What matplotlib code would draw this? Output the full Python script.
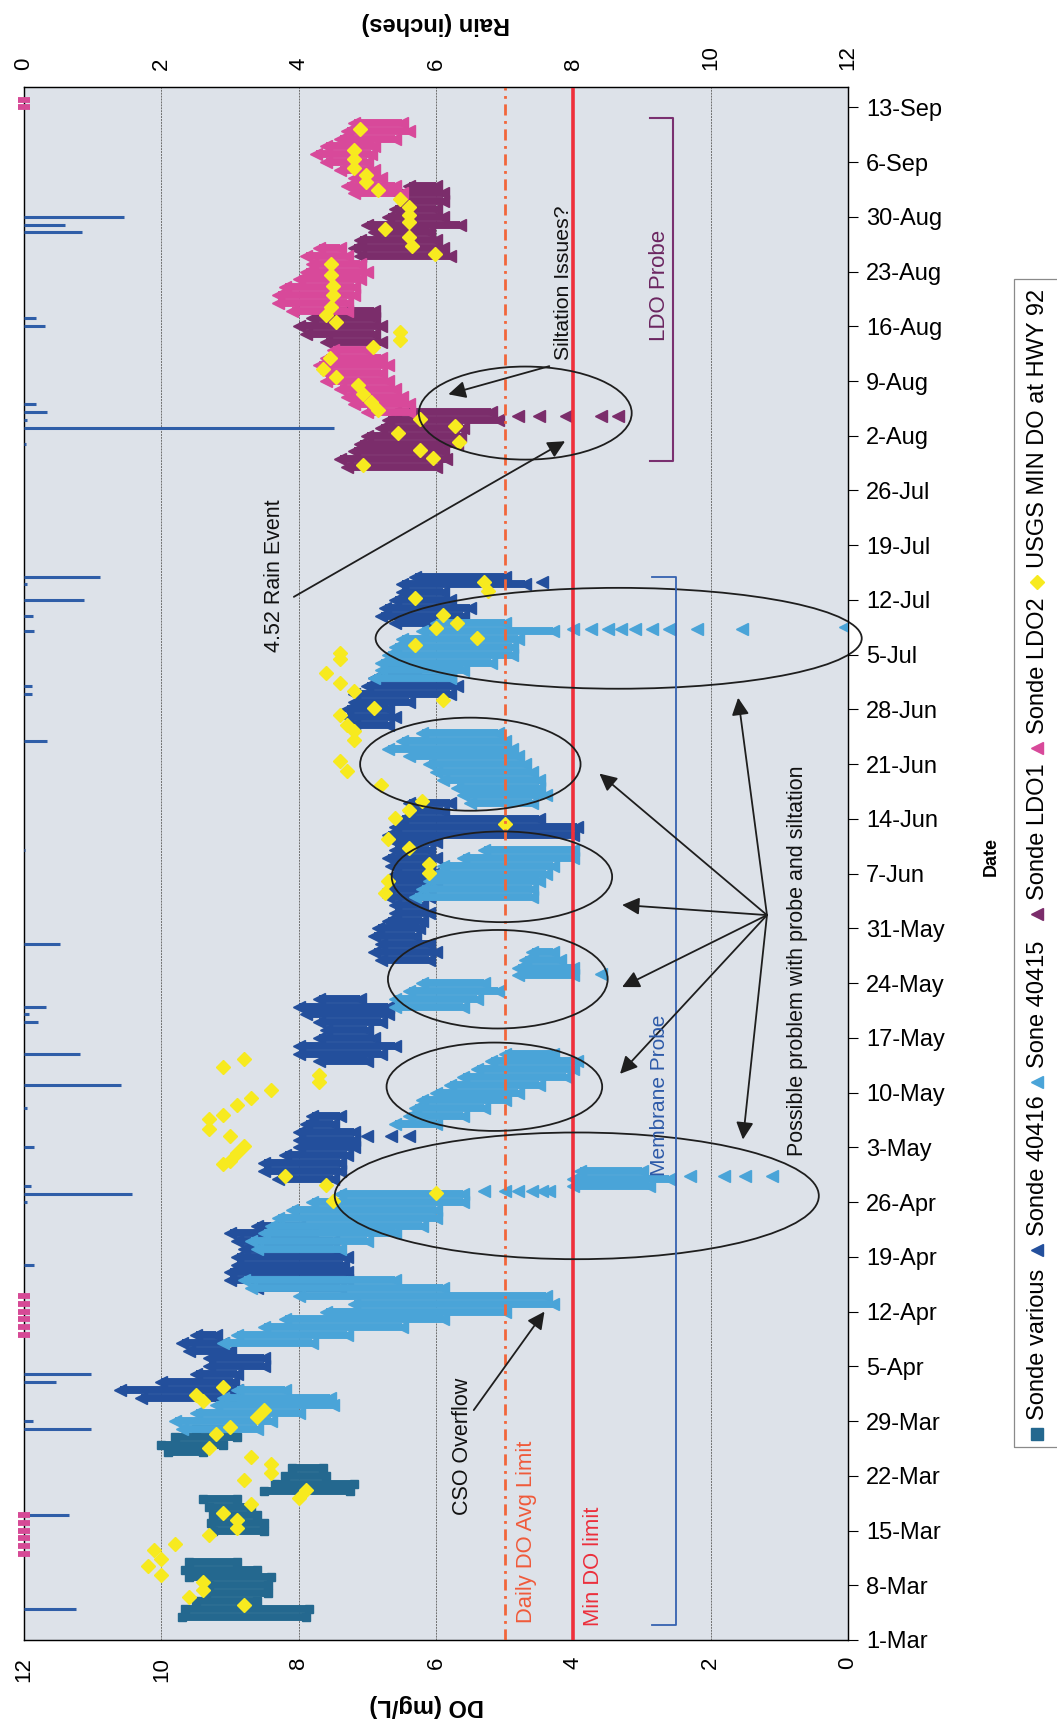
import numpy as np
import matplotlib
matplotlib.use("Agg")
import matplotlib.pyplot as plt
from matplotlib.patches import Ellipse, Rectangle
from matplotlib.lines import Line2D

plt.rcParams['font.family'] = ['Liberation Sans', 'DejaVu Sans']

# all dates are days after 1-Mar
date_labels = ['1-Mar', '8-Mar', '15-Mar', '22-Mar', '29-Mar', '5-Apr', '12-Apr',
               '19-Apr', '26-Apr', '3-May', '10-May', '17-May', '24-May', '31-May',
               '7-Jun', '14-Jun', '21-Jun', '28-Jun', '5-Jul', '12-Jul', '19-Jul',
               '26-Jul', '2-Aug', '9-Aug', '16-Aug', '23-Aug', '30-Aug', '6-Sep', '13-Sep']
do_ticks = [0, 2, 4, 6, 8, 10, 12]
rain_ticks = [0, 2, 4, 6, 8, 10, 12]

# Sonde various: daily high / low DO
sv_day = [3, 4, 5, 6, 7, 8, 9, 10, 14, 15, 16, 17, 18, 19, 20, 21, 22, 24, 25, 26, 27]
sv_hi = [9.7, 9.65, 9.5, 9.35, 9.3, 9.6, 9.65, 9.6, 9.25, 9.27, 9.25, 9.3, 9.4,
         8.5, 8.35, 8.2, 8.1, 9.9, 10.0, 9.8, 9.5]
sv_lo = [7.9, 7.85, 8.6, 8.45, 8.45, 8.4, 8.6, 8.9, 8.5, 8.5, 8.6, 8.7, 8.9,
         7.25, 7.2, 7.6, 7.65, 9.4, 9.1, 8.9, 8.95]

# Sonde 40416
db_day = [31, 32, 33, 34, 35, 36, 37, 38, 39,
          45, 46, 47, 48, 49, 50, 51, 52, 53,
          59, 60, 61, 62, 63, 64, 65, 66, 67,
          74, 75, 76, 77, 78, 79, 80, 81, 82,
          87, 88, 89, 90, 91, 92, 93, 94, 95,
          96, 97, 98, 99, 100, 101, 102, 103, 104, 105, 106, 107,
          117, 118, 119, 120, 121, 122, 123, 124,
          130, 131, 132, 133, 134, 135, 136]
db_hi = [10.3, 10.6, 10.0, 9.5, 9.3, 9.3, 9.6, 9.7, 9.5,
         8.6, 9.0, 9.0, 8.9, 8.9, 8.8, 8.9, 9.0, 8.6,
         8.3, 8.5, 8.5, 8.2, 8.0, 8.0, 8.0, 7.9, 7.8,
         7.7, 8.0, 8.0, 7.7, 7.6, 7.7, 7.9, 8.0, 7.7,
         6.8, 6.9, 6.8, 6.9, 6.85, 6.7, 6.6, 6.6, 6.7,
         6.7, 6.7, 6.6, 6.65, 6.7, 6.6, 6.6, 6.7, 6.6, 6.5, 6.4, 6.4,
         7.2, 7.3, 7.3, 7.2, 7.2, 7.0, 6.9, 6.7,
         6.6, 6.8, 6.75, 6.6, 6.5, 6.5, 6.3]
db_lo = [9.0, 8.9, 8.95, 8.9, 8.5, 8.5, 9.0, 9.1, 9.2,
         7.4, 7.3, 7.3, 7.35, 7.3, 7.5, 7.5, 7.8, 8.0,
         7.5, 7.4, 7.4, 7.3, 7.2, 7.2, 7.2, 7.5, 7.4,
         7.0, 6.8, 6.6, 6.9, 7.0, 6.8, 6.7, 6.7, 7.1,
         6.1, 6.0, 6.1, 6.3, 6.25, 6.2, 6.1, 6.2, 6.1,
         6.1, 6.0, 6.05, 6.1, 6.0, 6.1, 6.0, 4.0, 3.95, 4.5, 5.9, 5.8,
         6.7, 6.6, 6.7, 6.4, 5.8, 5.7, 5.8, 6.3,
         6.0, 5.6, 5.5, 5.8, 5.9, 4.7, 5.0]
db_pt_day = [64.5, 64.5, 64.5, 135.3]
db_pt_do = [7.0, 6.65, 6.4, 4.45]

# Sone 40415
lb_day = [27, 28, 29, 30, 31, 32,
          38, 39, 40, 41, 42, 43, 44, 45, 46,
          50, 51, 52, 53, 54, 55, 56, 57, 58, 59, 60,
          66, 67, 68, 69, 70, 71, 72, 73, 74, 75,
          81, 82, 83, 84, 85, 86, 87, 88,
          95, 96, 97, 98, 99, 100, 101,
          107, 108, 109, 110, 111, 112, 113, 114, 115, 116,
          123, 124, 125, 126, 127, 128, 129, 130]
lb_hi = [9.7, 9.8, 9.5, 9.2, 9.1, 8.9,
         9.1, 8.9, 8.5, 8.2, 7.6, 7.2, 8.0, 8.7, 8.8,
         8.6, 8.7, 8.5, 8.4, 8.3, 8.1, 7.8, 7.4, 4.0, 4.0, 3.9,
         6.6, 6.4, 6.3, 6.2, 6.0, 5.8, 5.6, 5.4, 5.2, 5.0,
         6.6, 6.6, 6.4, 6.2, 4.8, 4.8, 4.7, 4.6,
         6.3, 6.2, 6.1, 6.0, 5.9, 5.6, 5.3,
         5.5, 5.6, 5.7, 5.9, 6.0, 6.1, 6.4, 6.7, 6.5, 6.2,
         6.9, 6.8, 6.8, 6.7, 6.6, 6.5, 6.2, 6.0]
lb_lo = [8.6, 8.4, 8.0, 7.5, 7.55, 8.2,
         7.8, 7.3, 6.5, 5.9, 5.0, 4.3, 4.4, 5.9, 6.6,
         7.4, 7.0, 6.6, 6.2, 6.0, 6.0, 5.6, 5.6, 2.9, 2.6, 3.0,
         6.0, 5.6, 5.3, 5.0, 4.8, 4.5, 4.1, 4.0, 3.95, 4.3,
         5.6, 5.4, 5.1, 5.3, 4.0, 4.0, 4.2, 4.3,
         4.6, 4.6, 4.5, 4.4, 4.3, 4.0, 4.0,
         4.6, 4.4, 4.5, 4.5, 4.6, 4.7, 4.8, 4.9, 5.0, 5.1,
         5.8, 5.6, 5.2, 4.9, 4.9, 4.8, 4.3, 5.0]
lb_pt_day = [57.4, 57.4, 57.4, 57.4, 57.4, 57.4,
             59.4, 59.4, 59.4, 59.4, 85.2,
             129.3, 129.3, 129.3, 129.3, 129.3, 129.3, 129.3, 129.3, 129.3, 129.6]
lb_pt_do = [5.3, 5.0, 4.8, 4.6, 4.45, 4.35,
            2.3, 1.8, 1.5, 1.1, 3.6,
            4.0, 3.75, 3.5, 3.3, 3.1, 2.85, 2.6, 2.2, 1.55, 0.05]

# Sonde LDO1
pu_day = [150, 151, 152, 153, 154, 155, 156, 157,
          166, 167, 168, 169, 170,
          177, 178, 179, 180, 181, 182, 183, 184, 185, 186]
pu_hi = [7.3, 7.4, 7.2, 7.1, 7.0, 6.8, 6.7, 6.6,
         7.6, 7.9, 8.0, 7.8, 7.5,
         7.1, 7.2, 7.1, 6.9, 7.0, 6.7, 6.6, 6.5, 6.6, 6.4]
pu_lo = [6.0, 5.85, 5.9, 5.7, 5.65, 5.6, 5.1, 5.2,
         6.8, 6.9, 6.8, 6.9, 6.9,
         5.8, 5.9, 6.0, 6.1, 5.65, 5.9, 6.0, 5.9, 5.9, 6.0]
pu_pt_day = [156.5, 156.5, 156.5, 156.5, 156.5]
pu_pt_do = [4.8, 4.5, 4.1, 3.6, 3.35]

# Sonde LDO2
pk_day = [157, 158, 159, 160, 161, 162, 163, 164, 165,
          170, 171, 172, 173, 174, 175, 176, 177, 178,
          185, 186, 187, 188, 189, 190, 191, 192, 193, 194]
pk_hi = [7.0, 7.2, 7.3, 7.4, 7.6, 7.6, 7.7, 7.6, 7.5,
         8.1, 8.3, 8.3, 8.2, 8.0, 7.9, 7.8, 7.9, 7.7,
         7.2, 7.3, 7.2, 7.4, 7.6, 7.75, 7.6, 7.4, 7.3, 7.2]
pk_lo = [6.4, 6.4, 6.5, 6.6, 6.7, 6.8, 6.7, 6.8, 7.0,
         7.3, 7.3, 7.2, 7.2, 7.1, 7.0, 7.1, 7.3, 7.4,
         6.5, 6.6, 6.8, 6.9, 7.0, 6.95, 6.9, 6.6, 6.4, 6.5]

# USGS MIN DO at HWY 92
us_day = [4.5, 5.5, 6.4, 7.4, 8.3, 9.5, 10.4, 11.5, 12.3, 13.4,
          14.3, 15.3, 16.3, 17.4, 18.2, 19.2, 20.4, 21.3, 22.5, 23.4,
          24.5, 26.4, 27.3, 28.5, 29.4, 30.6, 31.3, 32.4,
          56.2, 57.2, 58.2, 59.4, 60.9, 61.3, 62.3, 63.2, 64.5, 65.3,
          66.6, 67.2, 68.4, 69.3, 70.3, 71.3, 72.3, 73.3, 74.3,
          95.5, 97.0, 98.1, 99.2, 101.3, 102.4, 104.3, 105.1, 106.2, 107.3, 109.4,
          111.1, 112.4, 115.1, 116.2, 117.0, 118.3, 119.2, 120.2, 121.3, 122.4,
          123.6, 125.5, 126.2, 127.3, 128.1, 129.4, 130.0, 131.1, 133.2, 134.1, 135.3,
          150.3, 151.1, 152.2, 153.2, 154.3, 155.2, 156.2, 157.3, 158.3, 159.4,
          160.5, 161.5, 162.6, 163.9, 165.4, 166.2, 167.3, 168.6, 169.4, 170.5,
          172.0, 173.2, 174.5, 176.0, 177.3, 178.3, 179.4, 180.5, 181.3, 182.2,
          183.2, 184.3, 185.4, 186.4, 187.3, 188.3, 189.4, 190.5, 193.2]
us_do = [8.8, 9.6, 9.4, 9.4, 10.0, 10.2, 10.0, 10.1, 9.8, 9.3,
         8.9, 8.9, 9.1, 8.7, 8.0, 7.9, 8.8, 8.4, 8.4, 8.7,
         9.3, 9.2, 9.0, 8.6, 8.5, 9.4, 9.5, 9.1,
         7.5, 6.0, 7.6, 8.2, 9.1, 9.0, 8.9, 8.8, 9.0, 9.3,
         9.3, 9.1, 8.9, 8.7, 8.4, 7.7, 7.7, 9.1, 8.8,
         6.75, 6.7, 6.1, 6.1, 6.4, 6.7, 5.0, 6.6, 6.4, 6.2, 6.8,
         7.3, 7.4, 7.2, 7.2, 7.3, 7.4, 6.9, 5.9, 7.2, 7.4,
         7.6, 7.4, 7.4, 6.3, 5.4, 6.0, 5.7, 5.9, 6.3, 5.25, 5.3,
         7.06, 6.04, 6.24, 5.66, 6.55, 5.73, 6.24, 6.84, 6.94, 7.06,
         7.14, 7.45, 7.65, 7.55, 6.92, 6.52, 6.52, 7.45, 7.6, 7.53,
         7.5, 7.5, 7.53, 7.53, 6.02, 6.35, 6.4, 6.75, 6.4, 6.4,
         6.4, 6.52, 6.84, 7.02, 7.02, 7.2, 7.2, 7.2, 7.1]

# daily rain (inches)
rain_day = [4, 16, 27, 28, 33, 34, 48, 56, 57, 58, 63, 68, 71, 75, 79, 80, 81, 89,
            101, 115, 121, 122, 129, 131, 133, 135, 136, 153, 155, 156, 157, 158,
            168, 169, 180, 181, 182]
rain_in = [0.75, 0.65, 0.97, 0.13, 0.47, 0.97, 0.15, 0.05, 1.57, 0.1, 0.15, 0.05,
           1.41, 0.82, 0.2, 0.07, 0.32, 0.53, 0.02, 0.33, 0.12, 0.12, 0.15, 0.13,
           0.87, 0.05, 1.11, 0.03, 4.52, 0.05, 0.33, 0.17, 0.3, 0.17, 0.85, 0.59, 1.45]
rain_zero_day = [11, 12, 13, 14, 15, 16, 39, 40, 41, 42, 43, 44, 196, 197]

c_sv = '#24688f'
c_db = '#234f9c'
c_lb = '#4aa4d8'
c_pu = '#7b2d6b'
c_pk = '#d8499a'
c_us = '#f7ea1f'
c_rain = '#2f5ea8'

fig = plt.figure(figsize=(10.57, 17.21), dpi=100)
ax = fig.add_axes([24 / 1057, 1 - 1640 / 1721, 824 / 1057, 1553 / 1721])
ax.set_facecolor('#dde2e9')
ax.set_xlim(12, 0)
ax.set_ylim(0, 198.6)

for g in [2, 6, 8, 10]:
    ax.axvline(g, color='#6f6f6f', lw=0.7, ls=(0, (2, 1)), zorder=1)


def band(days, hi, lo, color, marker, ms, z):
    ax.hlines(days, lo, hi, colors=color, lw=5.7, zorder=z)
    ax.plot(hi, days, ls='none', marker=marker, ms=ms, color=color, mec=color, zorder=z)
    ax.plot(lo, days, ls='none', marker=marker, ms=ms, color=color, mec=color, zorder=z)


band(sv_day, sv_hi, sv_lo, c_sv, 's', 6, 3)
band(db_day, db_hi, db_lo, c_db, '<', 8.5, 3.1)
ax.plot(db_pt_do, db_pt_day, ls='none', marker='<', ms=8.5, color=c_db, zorder=3.1)
band(lb_day, lb_hi, lb_lo, c_lb, '<', 8.5, 3.2)
ax.plot(lb_pt_do, lb_pt_day, ls='none', marker='<', ms=8.5, color=c_lb, zorder=3.2)
band(pu_day, pu_hi, pu_lo, c_pu, '<', 8.5, 3.3)
ax.plot(pu_pt_do, pu_pt_day, ls='none', marker='<', ms=8.5, color=c_pu, zorder=3.3)
band(pk_day, pk_hi, pk_lo, c_pk, '<', 8.5, 3.4)
ax.plot(us_do, us_day, ls='none', marker='D', ms=7.5, color=c_us, mec=c_us, zorder=3.5)

# limit lines
ax.axvline(4, color='#ef2f3b', lw=2.6, zorder=4)
ax.axvline(5, color='#f2663a', lw=2, ls=(0, (4, 2, 1, 2)), zorder=4)

# circled problem areas
for cx, cy, w, h in [(3.95, 56.8, 7.05, 16.2), (5.15, 70.75, 3.14, 11.3),
                     (5.1, 84.5, 3.2, 12.6), (5.04, 97.6, 3.21, 11.6),
                     (5.5, 112.0, 3.21, 11.9), (3.34, 128.1, 7.08, 12.9),
                     (4.7, 156.9, 3.1, 11.9)]:
    ax.add_patch(Ellipse((cx, cy), w, h, fill=False, ec='#1e1e1e', lw=1.3,
                         zorder=5, clip_on=False))

arrow = dict(arrowstyle='-|>', color='#1e1e1e', lw=1.3, mutation_scale=26,
             shrinkA=0, shrinkB=0)
for hx, hy in [(1.6, 120.5), (3.62, 110.8), (3.29, 94.0), (3.29, 83.5),
               (3.32, 72.4), (1.53, 64.0)]:
    ax.annotate('', xy=(hx, hy), xytext=(1.18, 92.7), arrowprops=arrow, zorder=6)
ax.annotate('', xy=(4.42, 42.0), xytext=(5.45, 29.4), arrowprops=arrow, zorder=6)
ax.annotate('', xy=(4.12, 153.3), xytext=(8.07, 133.4), arrowprops=arrow, zorder=6)
ax.annotate('', xy=(5.82, 159.3), xytext=(4.35, 162.9), arrowprops=arrow, zorder=6)

# probe brackets
ax.plot([2.85, 2.5, 2.5, 2.85], [1.9, 1.9, 136, 136], color='#3562b0', lw=1.3, zorder=5)
ax.plot([2.88, 2.55, 2.55, 2.88], [150.8, 150.8, 194.6, 194.6], color='#7a3070',
        lw=1.5, zorder=5)

txt = dict(rotation=90, ha='center', va='center', zorder=7)
ax.text(0.74, 86.8, 'Possible problem with probe and siltation', fontsize=15.5,
        color='#111111', **txt)
ax.text(2.75, 69.6, 'Membrane Probe', fontsize=15, color='#2d5aa8', **txt)
ax.text(2.75, 173.2, 'LDO Probe', fontsize=16, color='#6b2560', **txt)
ax.text(4.15, 173.6, 'Siltation Issues?', fontsize=15.3, color='#111111', **txt)
ax.text(8.35, 136.1, '4.52 Rain Event', fontsize=15.5, color='#111111', **txt)
ax.text(5.62, 24.7, 'CSO Overflow', fontsize=15.5, color='#111111', **txt)
ax.text(4.68, 13.8, 'Daily DO Avg Limit', fontsize=15.8, color='#f05a3a', **txt)
ax.text(3.7, 9.4, 'Min DO limit', fontsize=15.8, color='#ec2f3c', **txt)

# axes: date on the right, DO along the bottom
ax.yaxis.tick_right()
ax.set_yticks(np.arange(0, 197, 7))
ax.set_yticklabels(date_labels, fontsize=17)
ax.tick_params(axis='y', direction='out', length=7, width=0.8, pad=6)
ax.set_xticks(do_ticks)
ax.set_xticklabels([str(v) for v in do_ticks], rotation=90, fontsize=16)
ax.tick_params(axis='x', length=0, pad=12)
for s in ax.spines.values():
    s.set_linewidth(1.0)
    s.set_color('#222222')

# rain on a twin axis along the top
ax2 = ax.twiny()
ax2.set_xlim(0, 12)
ax2.hlines(rain_day, 0, rain_in, colors=c_rain, lw=2.2, zorder=3)
ax2.plot([0] * len(rain_zero_day), rain_zero_day, ls='none', marker='_', ms=8,
         mew=4.2, color='#d64a96', clip_on=False, zorder=4)
ax2.set_xticks(rain_ticks)
ax2.set_xticklabels([str(v) for v in rain_ticks], rotation=90, fontsize=16)
ax2.tick_params(axis='x', length=0, pad=12)

fig.text(427 / 1057, 1 - 1705 / 1721, 'DO (mg/L)', rotation=180, fontsize=17,
         fontweight='bold', ha='center', va='center')
fig.text(436 / 1057, 1 - 23 / 1721, 'Rain (inches)', rotation=180, fontsize=17,
         fontweight='bold', ha='center', va='center')
fig.text(991 / 1057, 1 - 856 / 1721, 'Date', rotation=90, fontsize=13,
         fontweight='bold', ha='center', va='center')

# legend, turned on its side
fig.add_artist(Rectangle((1014 / 1057, 1 - 1447 / 1721), 50 / 1057, 1168 / 1721,
                         transform=fig.transFigure, fill=False, ec='#8a8a8a', lw=0.9))
entries = [('Sonde various', 's', c_sv, 1434), ('Sonde 40416', '<', c_db, 1250),
           ('Sone 40415', '<', c_lb, 1082), ('Sonde LDO1', '<', c_pu, 914),
           ('Sonde LDO2', '<', c_pk, 748), ('USGS MIN DO at HWY 92', 'D', c_us, 582)]
for label, mk, col, ypx in entries:
    fig.add_artist(Line2D([1037 / 1057], [1 - ypx / 1721], transform=fig.transFigure,
                          marker=mk, ms=8 if mk != 'D' else 7, color=col, mec=col, ls='none'))
    fig.text(1038 / 1057, 1 - (ypx - 14) / 1721, label, rotation=90, fontsize=17,
             ha='center', va='bottom')

fig.savefig('out.png', dpi=100, facecolor='white')
